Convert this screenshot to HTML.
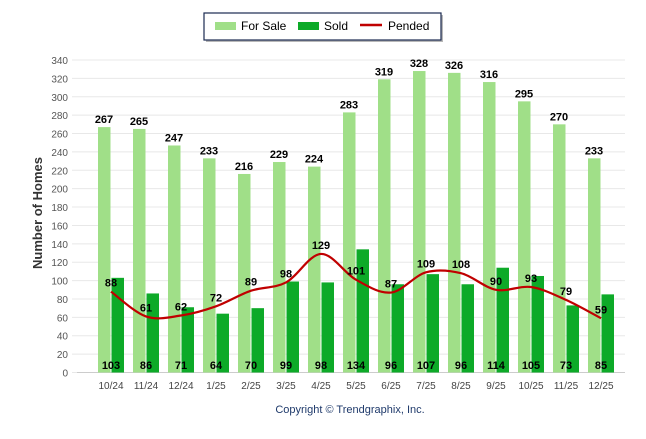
<!DOCTYPE html>
<html><head><meta charset="utf-8"><style>
body{margin:0;background:#fff;width:646px;height:434px;overflow:hidden;font-family:"Liberation Sans",sans-serif}
</style></head><body>
<svg id="c" width="646" height="434" xmlns="http://www.w3.org/2000/svg">
<g>
<rect x="206" y="15" width="237" height="27" fill="#888" opacity="0.6"/>
<rect x="204" y="13" width="237" height="27" fill="#fff" stroke="#1a2a50" stroke-width="1.2"/>
<rect x="215" y="22" width="21" height="8" fill="#a0df88"/>
<text x="241" y="30" font-size="12" fill="#000">For Sale</text>
<rect x="298" y="22" width="21" height="8" fill="#0daa28"/>
<text x="324" y="30" font-size="12" fill="#000">Sold</text>
<line x1="360" y1="25" x2="382" y2="25" stroke="#c00000" stroke-width="2.5"/>
<text x="388" y="30" font-size="12" fill="#000">Pended</text>
</g>
<text transform="translate(42,213) rotate(-90)" text-anchor="middle" font-size="13" font-weight="bold" fill="#333">Number of Homes</text>
<text x="350" y="413" text-anchor="middle" font-size="11" fill="#1f3a6b">Copyright © Trendgraphix, Inc.</text>
<g id="grid"></g><g id="bars"></g><g id="line"></g><g id="labels"></g>
</svg>
<script>
const categories=["10/24","11/24","12/24","1/25","2/25","3/25","4/25","5/25","6/25","7/25","8/25","9/25","10/25","11/25","12/25"];
const forSale=[267,265,247,233,216,229,224,283,319,328,326,316,295,270,233];
const sold=[103,86,71,64,70,99,98,134,96,107,96,114,105,73,85];
const pended=[88,61,62,72,89,98,129,101,87,109,108,90,93,79,59];
const yTicks=[0,20,40,60,80,100,120,140,160,180,200,220,240,260,280,300,320,340];
const NS="http://www.w3.org/2000/svg";
const y=v=>372.5-v*(312.5/340);
const xc=i=>111+35*i;
function mk(t,a,p){const e=document.createElementNS(NS,t);for(const k in a)e.setAttribute(k,a[k]);p.appendChild(e);return e;}
const G=document.getElementById('grid'),B=document.getElementById('bars'),L=document.getElementById('line'),T=document.getElementById('labels');
yTicks.forEach(v=>{
 const l=mk('line',{x1:72,x2:625,y1:y(v),y2:y(v),stroke:'#e8e8e8','stroke-width':1},G);
 
 
 const t=mk('text',{x:68,y:y(v)+4,'text-anchor':'end','font-size':10,fill:'#555'},G);t.textContent=v;
 
 
});
mk('line',{x1:77,x2:625,y1:372.5,y2:372.5,stroke:'#ccc'},G);
categories.forEach((c,i)=>{
 const cx=xc(i);
 const t=mk('text',{x:cx,y:389,'text-anchor':'middle','font-size':10,fill:'#444'},G);t.textContent=c;
 
 
 const b1=mk('rect',{x:cx-13,y:y(forSale[i]),width:12.5,height:y(0)-y(forSale[i]),fill:'#a0df88'},B);
 
 
 const b2=mk('rect',{x:cx+0.5,y:y(sold[i]),width:12.5,height:y(0)-y(sold[i]),fill:'#0daa28'},B);
 
 
 const l1=mk('text',{x:cx-7,y:y(forSale[i])-4,'text-anchor':'middle','font-size':11,'font-weight':'bold',fill:'#000'},T);l1.textContent=forSale[i];
 
 
 const l2=mk('text',{x:cx,y:369,'text-anchor':'middle','font-size':11,'font-weight':'bold',fill:'#000'},T);l2.textContent=sold[i];
 
 
 const l3=mk('text',{x:cx,y:y(pended[i])-5,'text-anchor':'middle','font-size':11,'font-weight':'bold',fill:'#000'},T);l3.textContent=pended[i];
 
 
});
const pts=pended.map((v,i)=>[xc(i),y(v)]);
let d='M'+pts[0][0]+','+pts[0][1];
for(let i=0;i<pts.length-1;i++){
 const p0=pts[Math.max(0,i-1)],p1=pts[i],p2=pts[i+1],p3=pts[Math.min(pts.length-1,i+2)];
 const c1=[p1[0]+(p2[0]-p0[0])/6,p1[1]+(p2[1]-p0[1])/6],c2=[p2[0]-(p3[0]-p1[0])/6,p2[1]-(p3[1]-p1[1])/6];
 d+=` C${c1[0]},${c1[1]} ${c2[0]},${c2[1]} ${p2[0]},${p2[1]}`;
}
const pl=mk('path',{d:d,fill:'none',stroke:'#c00000','stroke-width':2.2},L);


</script>
</body></html>
